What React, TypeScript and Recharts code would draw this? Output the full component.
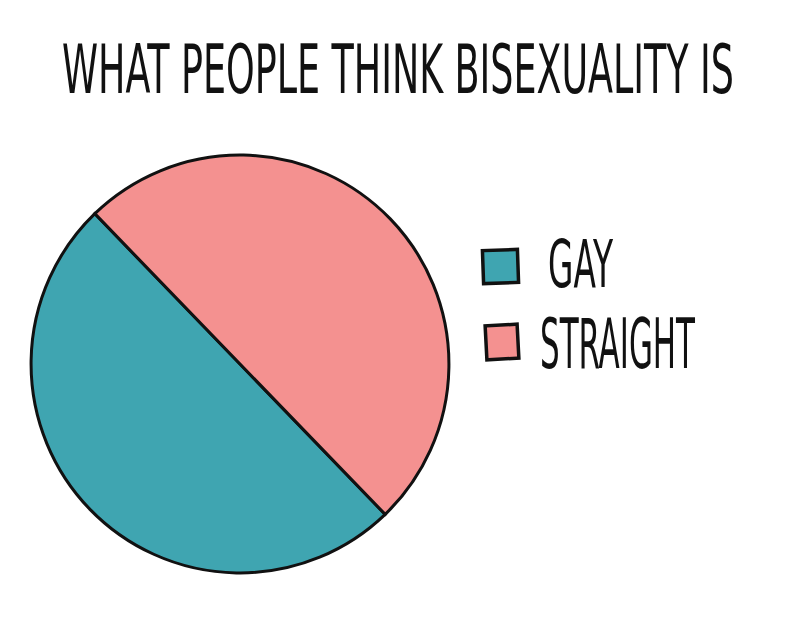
import React from "react";
import { PieChart, Pie, Cell } from "recharts";

const title = "WHAT PEOPLE THINK BISEXUALITY IS";
const categories = ["GAY", "STRAIGHT"];
const values = [50, 50];
const colors = ["#3FA5B1", "#F49190"];

const data = categories.map((name, i) => ({ name, value: values[i] }));

const FONT = "'DejaVu Sans Condensed', 'DejaVu Sans', 'Liberation Sans Narrow', sans-serif";

const legendLayout = [
  { rect: { x: 13, y: 20, w: 35, h: 33, rot: -2 }, text: { x: 78, y: 57, len: 65, size: 40, k: 1.65 } },
  { rect: { x: 16, y: 95, w: 32, h: 34, rot: -3 }, text: { x: 70, y: 138, len: 155, size: 42, k: 1.65 } },
];

function StretchText({ x, y, len, size, k, children }: any) {
  return (
    <g transform={`translate(${x} ${y}) scale(1 ${k})`}>
      <text
        x={0}
        y={0}
        fontFamily={FONT}
        fontSize={size}
        fill="#111"
        textLength={len}
        lengthAdjust="spacingAndGlyphs"
      >
        {children}
      </text>
    </g>
  );
}

function LegendBox() {
  return (
    <svg width={320} height={180} style={{ position: "absolute", left: 462, top: 222, overflow: "visible" }}>
      {data.map((entry, i) => {
        const l = legendLayout[i];
        const cxr = l.rect.x + l.rect.w / 2;
        const cyr = l.rect.y + l.rect.h / 2;
        return (
          <g key={entry.name}>
            <rect
              x={l.rect.x}
              y={l.rect.y}
              width={l.rect.w}
              height={l.rect.h}
              fill={colors[i]}
              stroke="#111"
              strokeWidth={3.5}
              transform={`rotate(${l.rect.rot} ${cxr} ${cyr})`}
            />
            <StretchText x={l.text.x} y={l.text.y} len={l.text.len} size={l.text.size} k={l.text.k}>
              {entry.name}
            </StretchText>
          </g>
        );
      })}
    </svg>
  );
}

export default function App() {
  return (
    <div style={{ position: "relative", width: 792, height: 606, background: "#fff" }}>
      <svg width={792} height={110} style={{ position: "absolute", left: 0, top: 0 }}>
        <StretchText x={54} y={85} len={672} size={40} k={1.7}>
          {title}
        </StretchText>
      </svg>
      <div style={{ position: "absolute", left: 0, top: 0 }}>
        <PieChart width={792} height={606}>
          <Pie
            data={data}
            dataKey="value"
            nameKey="name"
            cx={227}
            cy={351}
            outerRadius={209}
            innerRadius={0}
            startAngle={134}
            endAngle={494}
            paddingAngle={0}
            stroke="#111"
            strokeWidth={3}
            isAnimationActive={false}
          >
            {data.map((d, i) => (
              <Cell key={d.name} fill={colors[i]} stroke="#111" strokeWidth={3} />
            ))}
          </Pie>
        </PieChart>
      </div>
      <LegendBox />
    </div>
  );
}
